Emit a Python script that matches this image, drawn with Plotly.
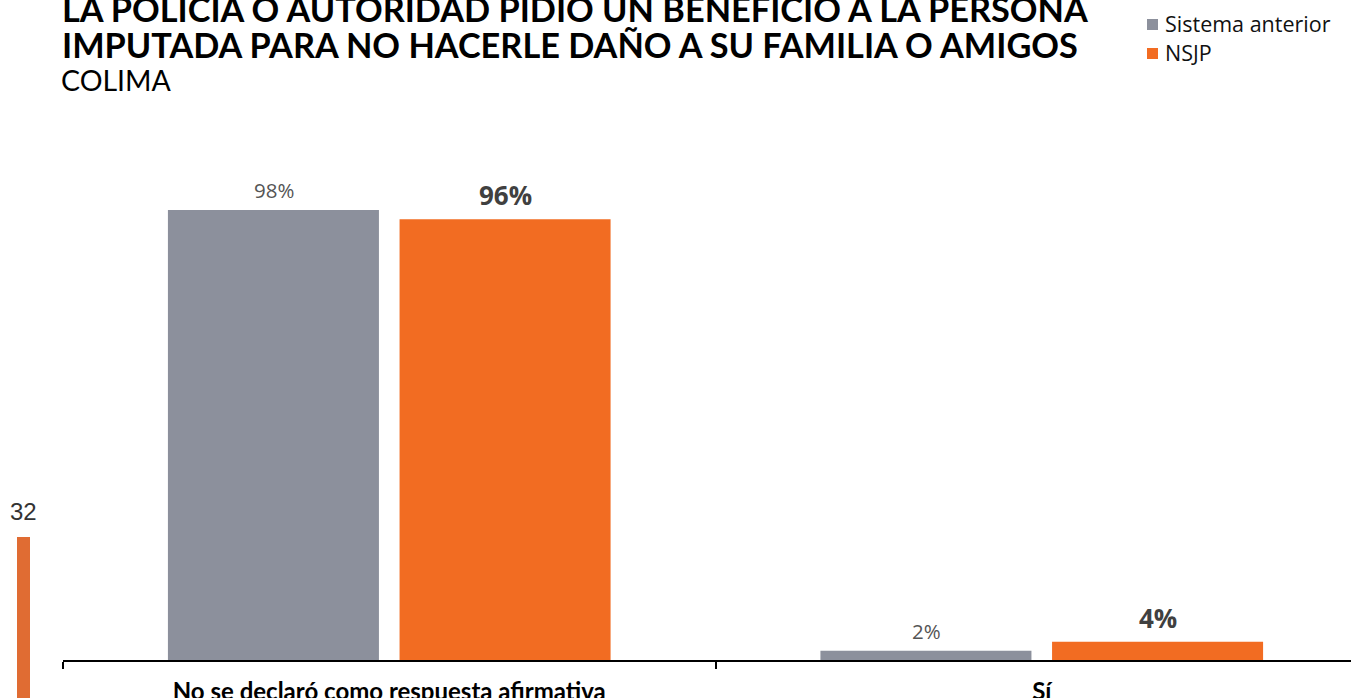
import plotly.graph_objects as go

categories = ["No se declaró como respuesta afirmativa", "Sí"]
series_names = ["Sistema anterior", "NSJP"]
sistema_anterior = [98, 2]
nsjp = [96, 4]
colors = ["#8C909C", "#F26C22"]

W, H = 1351, 698
PLOT_LEFT = 63
PLOT_TOP, PLOT_BOTTOM = 100, 660
PX_PER_UNIT = 4.592
y_max = (PLOT_BOTTOM - PLOT_TOP) / PX_PER_UNIT


def py(ypix):
    return (PLOT_BOTTOM - ypix) / (PLOT_BOTTOM - PLOT_TOP)


def px(xpix):
    return (xpix - PLOT_LEFT) / (W - PLOT_LEFT)


fig = go.Figure()
fig.add_trace(go.Bar(x=categories, y=sistema_anterior, name=series_names[0],
                     marker=dict(color=colors[0], line=dict(width=0))))
fig.add_trace(go.Bar(x=categories, y=nsjp, name=series_names[1],
                     marker=dict(color=colors[1], line=dict(width=0))))

annotations = []
off = 0.1774
for i, v in enumerate(sistema_anterior):
    annotations.append(dict(x=i - off, y=v, xref="x", yref="y", text=f"{v}%",
                            showarrow=False, yanchor="bottom", yshift=4,
                            font=dict(family="Open Sans", size=20.5, color="#555555")))
for i, v in enumerate(nsjp):
    annotations.append(dict(x=i + off, y=v, xref="x", yref="y", text=f"<b>{v}%</b>",
                            showarrow=False, yanchor="bottom", yshift=4,
                            font=dict(family="Open Sans", size=26, color="#404040")))

title_font = dict(family="Lato", size=34.3, color="#000000")
annotations += [
    dict(x=px(60), y=py(9), xref="paper", yref="paper", xanchor="left", yanchor="middle",
         text="<b>LA POLICIA O AUTORIDAD PIDIO UN BENEFICIO A LA PERSONA</b>", showarrow=False,
         font=title_font),
    dict(x=px(60), y=py(45), xref="paper", yref="paper", xanchor="left", yanchor="middle",
         text="<b>IMPUTADA PARA NO HACERLE DAÑO A SU FAMILIA O AMIGOS</b>", showarrow=False,
         font=title_font),
    dict(x=px(59), y=py(80), xref="paper", yref="paper", xanchor="left", yanchor="middle",
         text="COLIMA", showarrow=False,
         font=dict(family="Lato", size=28.5, color="#000000")),
    dict(x=px(23), y=py(511), xref="paper", yref="paper", xanchor="center", yanchor="middle",
         text="32", showarrow=False,
         font=dict(family="Liberation Sans", size=24, color="#333333")),
]

shapes = [dict(type="rect", xref="paper", yref="paper",
               x0=px(17), x1=px(30), y0=py(720), y1=py(537),
               fillcolor="#E06C33", line=dict(width=0))]

# custom legend (square + label) built from the series names/colours
legend_rows = [24.5, 53.5]
for name, col, yc in zip(series_names, colors, legend_rows):
    shapes.append(dict(type="rect", xref="paper", yref="paper",
                       x0=px(1147), x1=px(1158), y0=py(yc + 5.5), y1=py(yc - 5.5),
                       fillcolor=col, line=dict(width=0)))
    annotations.append(dict(x=px(1163), y=py(yc - 1.5), xref="paper", yref="paper",
                            xanchor="left", yanchor="middle", text=name, showarrow=False,
                            font=dict(family="Open Sans", size=21.5, color="#111111")))

fig.update_layout(
    width=W, height=H,
    margin=dict(l=PLOT_LEFT, r=0, t=PLOT_TOP, b=H - PLOT_BOTTOM, autoexpand=False),
    paper_bgcolor="white", plot_bgcolor="white",
    barmode="group", bargap=0.29, bargroupgap=0.089,
    showlegend=False,
    annotations=annotations,
    shapes=shapes,
    xaxis=dict(range=[-0.5, -0.5 + (W - PLOT_LEFT) / 652.5], showline=True, linecolor="#000000",
               linewidth=2, ticks="outside", tickson="boundaries", ticklen=7,
               tickcolor="#000000", tickwidth=2, showgrid=False, zeroline=False,
               tickfont=dict(family="Lato", size=24, color="#000000"),
               ticklabelstandoff=9, automargin=False),
    yaxis=dict(range=[0, y_max], visible=False, showgrid=False, zeroline=False),
)
fig.update_xaxes(tickvals=categories, ticktext=[f"<b>{c}</b>" for c in categories])

fig.write_html("out.html", config={"displayModeBar": False},
               post_script="document.body.style.margin='0px';")
